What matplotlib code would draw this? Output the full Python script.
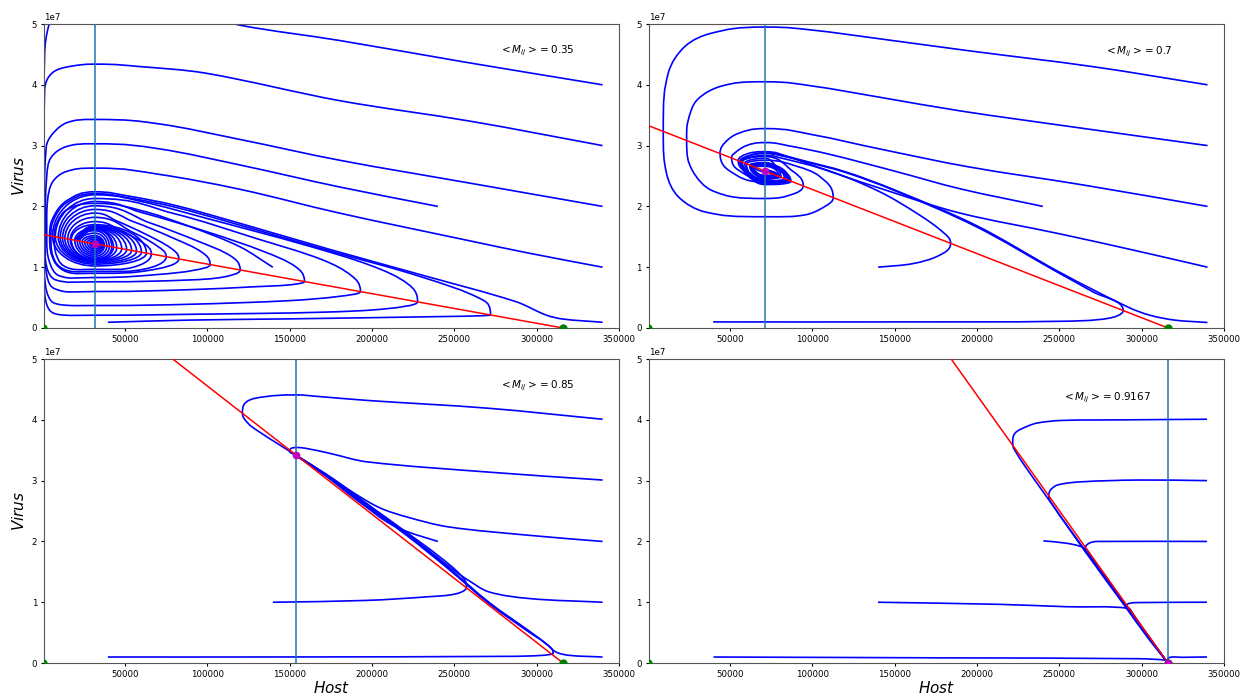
import numpy as np
import matplotlib
matplotlib.use("Agg")
import matplotlib.pyplot as plt
from matplotlib.path import Path
from matplotlib.patches import PathPatch

# mean M_ij of each panel, label text and where the label sits (H, V/1e7)
m_labels = ["0.35", "0.7", "0.85", "0.9167"]
label_pos = [(277300, 4.56), (277100, 4.54), (277200, 4.56), (251400, 4.37)]

# nullclines: carrying capacity, V intercept of the
# host nullcline (1e7), host value of the virus nullcline, equilibrium V (1e7)
K = 316000
red_v0 = [1.538, 3.333, 6.667, 12.0]
h_star = [31600, 71200, 153700, 315800]
v_eq = [1.377, 2.58, 3.42, 0.0076]

# trajectories, points are (Host, Virus/1e7, tag)
# tag 'h' = top/bottom of a loop (flat), 'v' = left/right tip (vertical)
traj_035 = [
    [(340000, 4.00, ''), (255000, 4.38, ''), (180000, 4.73, ''), (120000, 4.98, ''), (70000, 5.3, ''),
     (31600, 5.45, 'h'), (10000, 5.3, ''), (3800, 4.98, ''), (1200, 4.5, ''), (400, 1.536, 'v'),
     (1200, 0.58, ''), (4000, 0.30, ''), (10000, 0.22, ''), (31600, 0.21, 'h'), (89000, 0.225, ''),
     (170000, 0.26, ''), (210000, 0.32, ''), (227700, 0.43, 'v'), (222000, 0.72, ''), (200000, 1.02, ''),
     (160000, 1.36, ''), (100000, 1.80, ''), (60000, 2.08, ''), (31600, 2.19, 'h'), (6000, 1.509, 'v'),
     (31600, 1.02, 'h'), (63000, 1.231, 'v'), (31600, 1.70, 'h'), (17400, 1.453, 'v'), (31600, 1.12, 'h'),
     (42000, 1.334, 'v'), (31600, 1.64, 'h'), (19500, 1.443, 'v'), (31600, 1.15, 'h'), (40500, 1.342, 'v'),
     (31600, 1.60, 'h'), (21000, 1.436, 'v'), (31600, 1.18, 'h'), (39000, 1.348, 'v'), (31600, 1.56, 'h'),
     (22500, 1.428, 'v'), (31600, 1.21, 'h'), (37500, 1.355, 'v'), (31600, 1.52, 'h'), (24000, 1.421, 'v'),
     (31600, 1.24, 'h'), (36500, 1.36, 'v'), (31600, 1.49, 'h'), (25500, 1.414, 'v'), (31600, 1.27, 'h'),
     (35500, 1.365, 'v'), (31600, 1.46, 'h'), (27000, 1.407, 'v'), (31600, 1.30, 'h'), (34500, 1.37, 'v'),
     (31600, 1.43, 'h'), (28500, 1.40, 'v'), (31600, 1.33, 'h'), (33500, 1.375, 'v'), (31600, 1.40, 'h'),
     (29500, 1.394, 'v'), (31600, 1.35, 'h'), (32800, 1.377, 'v'), (31600, 1.38, '')],
    [(340000, 3.00, ''), (260000, 3.40, ''), (180200, 3.74, ''), (99300, 4.19, ''), (58900, 4.30, ''),
     (31600, 4.34, 'h'), (18400, 4.31, ''), (8300, 4.24, ''), (3200, 4.11, ''), (1200, 3.91, ''),
     (700, 1.535, 'v'), (1500, 0.75, ''), (5000, 0.45, ''), (12000, 0.38, ''), (31600, 0.37, 'h'),
     (89000, 0.39, ''), (150000, 0.45, ''), (180000, 0.52, ''), (193000, 0.599, 'v'), (188000, 0.85, ''),
     (170000, 1.12, ''), (130000, 1.47, ''), (80000, 1.88, ''), (31600, 2.13, 'h'), (7700, 1.501, 'v'),
     (31600, 1.05, 'h'), (60000, 1.246, 'v'), (31600, 1.68, 'h'), (19000, 1.45, '')],
    [(340000, 2.00, ''), (260000, 2.38, ''), (180200, 2.76, ''), (120000, 3.10, ''), (70000, 3.36, ''),
     (31600, 3.43, 'h'), (15000, 3.38, ''), (6250, 3.20, ''), (2200, 2.98, ''), (1100, 1.533, 'v'),
     (2000, 0.95, ''), (7000, 0.65, ''), (31600, 0.60, 'h'), (89000, 0.63, ''), (130000, 0.68, ''),
     (150000, 0.71, ''), (159000, 0.764, 'v'), (154000, 1.0, ''), (135000, 1.25, ''), (100000, 1.58, ''),
     (60000, 1.90, ''), (31600, 2.08, 'h'), (9500, 1.492, 'v'), (31600, 1.07, 'h'), (57000, 1.26, 'v'),
     (31600, 1.67, 'h'), (19500, 1.45, '')],
    [(240000, 2.00, ''), (180200, 2.32, ''), (120000, 2.68, ''), (70000, 2.95, ''), (31600, 3.03, 'h'),
     (14000, 2.98, ''), (5000, 2.80, ''), (2500, 2.5, ''), (1500, 1.531, 'v'), (2500, 1.0, ''),
     (8000, 0.79, ''), (31600, 0.76, 'h'), (89000, 0.79, ''), (110000, 0.84, ''), (119950, 0.954, 'v'),
     (115000, 1.17, ''), (95000, 1.42, ''), (65000, 1.73, ''), (31600, 2.01, 'h'), (10700, 1.486, 'v'),
     (31600, 1.09, 'h'), (54000, 1.275, 'v'), (31600, 1.66, 'h'), (20000, 1.45, '')],
    [(340000, 1.00, ''), (295500, 1.23, ''), (260000, 1.43, ''), (180200, 1.89, ''), (120000, 2.28, ''),
     (70000, 2.53, ''), (31600, 2.63, 'h'), (14000, 2.57, ''), (6000, 2.40, ''), (3000, 2.10, ''),
     (2500, 1.526, 'v'), (4000, 1.1, ''), (10000, 0.86, ''), (31600, 0.83, 'h'), (70000, 0.88, ''),
     (92000, 0.95, ''), (101700, 1.043, 'v'), (97000, 1.24, ''), (80000, 1.47, ''), (55000, 1.75, ''),
     (31600, 1.95, 'h'), (12100, 1.479, 'v'), (31600, 1.10, 'h'), (51000, 1.29, 'v'), (31600, 1.65, 'h'),
     (20500, 1.45, '')],
    [(340000, 0.094, ''), (315700, 0.148, ''), (305600, 0.214, ''), (287400, 0.433, ''), (230800, 0.867, ''),
     (174150, 1.294, ''), (120000, 1.72, ''), (80000, 2.02, ''), (50000, 2.18, ''), (31600, 2.24, 'h'),
     (15000, 2.1, ''), (7000, 1.85, ''), (4250, 1.517, 'v'), (7000, 1.1, ''), (15000, 0.92, ''),
     (31600, 0.90, 'h'), (65000, 0.95, ''), (82700, 1.135, 'v'), (78000, 1.31, ''), (62000, 1.55, ''),
     (45000, 1.76, ''), (31600, 1.89, 'h'), (13500, 1.472, 'v'), (31600, 1.11, 'h'), (48000, 1.304, 'v'),
     (31600, 1.64, 'h'), (21000, 1.45, '')],
    [(139750, 1.00, ''), (119500, 1.34, ''), (89200, 1.67, ''), (60000, 1.93, ''), (31600, 2.05, 'h'),
     (15000, 1.95, ''), (9000, 1.75, ''), (7000, 1.502, 'v'), (10000, 1.1, ''), (17000, 0.975, ''),
     (31600, 0.965, 'h'), (55000, 1.0, ''), (66000, 1.217, 'v'), (62000, 1.38, ''), (48000, 1.59, ''),
     (31600, 1.75, 'h'), (16800, 1.456, 'v'), (31600, 1.13, 'h'), (43000, 1.33, 'v'), (31600, 1.62, 'h'),
     (22000, 1.45, '')],
    [(39600, 0.094, ''), (89200, 0.13, ''), (150000, 0.15, ''), (247000, 0.19, ''), (265000, 0.20, ''),
     (272000, 0.215, 'v'), (268000, 0.45, ''), (230000, 0.84, ''), (174000, 1.27, ''), (120000, 1.69, ''),
     (80000, 1.99, ''), (50000, 2.15, ''), (31600, 2.21, 'h'), (14000, 2.05, ''), (7000, 1.8, ''),
     (5000, 1.515, 'v'), (7500, 1.1, ''), (15000, 0.945, ''), (31600, 0.93, 'h'), (62000, 0.97, ''),
     (75000, 1.173, 'v'), (70000, 1.34, ''), (55000, 1.57, ''), (31600, 1.82, 'h'), (15200, 1.464, 'v'),
     (31600, 1.12, 'h'), (45000, 1.319, 'v'), (31600, 1.63, 'h'), (21500, 1.45, '')],
]

traj_07 = [
    [(340000, 4.0, ''), (270000, 4.3, ''), (195000, 4.56, ''), (140000, 4.76, ''), (100000, 4.9, ''),
     (71200, 4.95, 'h'), (38900, 4.85, ''), (22600, 4.63, ''), (12500, 4.19, ''), (9500, 3.26, 'v'),
     (11500, 2.54, ''), (18600, 2.16, ''), (34800, 1.91, ''), (71200, 1.83, 'h'), (95500, 1.86, ''),
     (107700, 2.0, ''), (112700, 2.15, 'v'), (104600, 2.49, ''), (90500, 2.66, ''), (71200, 2.76, 'h'),
     (60000, 2.70, 'v'), (71200, 2.42, 'h'), (84000, 2.45, 'v'), (71200, 2.68, 'h'), (64000, 2.66, 'v'),
     (71200, 2.50, 'h'), (77000, 2.52, 'v'), (71200, 2.60, '')],
    [(340000, 3.0, ''), (260000, 3.3, ''), (190000, 3.57, ''), (140000, 3.8, ''), (100000, 3.98, ''),
     (71200, 4.05, 'h'), (45000, 3.98, ''), (30000, 3.75, ''), (24500, 3.4, ''), (23700, 3.08, 'v'),
     (27000, 2.6, ''), (40000, 2.25, ''), (71200, 2.13, 'h'), (88000, 2.2, ''), (94500, 2.34, 'v'),
     (88000, 2.58, ''), (71200, 2.82, 'h'), (57000, 2.74, 'v'), (71200, 2.39, 'h'), (86000, 2.43, 'v'),
     (71200, 2.70, 'h'), (62000, 2.68, 'v'), (71200, 2.47, 'h'), (79000, 2.51, 'v'), (71200, 2.62, '')],
    [(340000, 2.0, ''), (265000, 2.35, ''), (195000, 2.65, ''), (140000, 2.95, ''), (100000, 3.18, ''),
     (71200, 3.28, 'h'), (55000, 3.2, ''), (47000, 3.05, ''), (44000, 2.87, 'v'), (50000, 2.58, ''),
     (71200, 2.40, 'h'), (80000, 2.42, ''), (83000, 2.46, 'v'), (78000, 2.66, ''), (71200, 2.79, 'h'),
     (59000, 2.71, 'v'), (71200, 2.45, 'h'), (80000, 2.49, 'v'), (71200, 2.66, 'h'), (65000, 2.65, 'v'),
     (71200, 2.55, '')],
    [(240000, 2.0, ''), (189700, 2.29, ''), (150000, 2.58, ''), (110000, 2.86, ''), (85000, 3.0, ''),
     (71200, 3.05, 'h'), (60000, 3.0, ''), (53000, 2.88, ''), (51000, 2.80, 'v'), (55000, 2.6, ''),
     (71200, 2.45, 'h'), (79000, 2.47, ''), (81000, 2.48, 'v'), (71200, 2.72, 'h'), (62000, 2.68, 'v'),
     (71200, 2.49, 'h'), (77000, 2.52, 'v'), (71200, 2.58, '')],
    [(340000, 1.0, ''), (300000, 1.25, ''), (250000, 1.55, ''), (189700, 1.89, ''), (150000, 2.22, ''),
     (110000, 2.58, ''), (85000, 2.82, ''), (71200, 2.90, 'h'), (60000, 2.86, ''), (55000, 2.75, 'v'),
     (60000, 2.55, ''), (71200, 2.36, 'h'), (82000, 2.37, ''), (87000, 2.41, 'v'), (80000, 2.62, ''),
     (71200, 2.71, 'h'), (63000, 2.67, 'v'), (71200, 2.48, 'h'), (78000, 2.51, 'v'), (71200, 2.59, '')],
    [(340000, 0.09, ''), (320000, 0.13, ''), (305000, 0.21, ''), (292000, 0.34, ''), (250000, 0.92, ''),
     (200000, 1.68, ''), (150000, 2.27, ''), (120000, 2.57, ''), (95000, 2.75, ''), (80000, 2.85, ''),
     (71200, 2.88, 'h'), (62000, 2.84, ''), (56000, 2.74, 'v'), (62000, 2.52, ''), (71200, 2.38, 'h'),
     (82000, 2.39, ''), (86000, 2.43, 'v'), (79000, 2.63, ''), (71200, 2.70, 'h'), (63500, 2.67, 'v'),
     (71200, 2.49, 'h'), (78000, 2.52, 'v'), (71200, 2.59, '')],
    [(140000, 1.0, ''), (161300, 1.06, ''), (177500, 1.20, ''), (184000, 1.39, 'v'), (180000, 1.56, ''),
     (165000, 1.86, ''), (141000, 2.24, ''), (110700, 2.58, ''), (80300, 2.80, ''), (71200, 2.84, 'h'),
     (62000, 2.80, ''), (57500, 2.73, 'v'), (63000, 2.53, ''), (71200, 2.40, 'h'), (81000, 2.41, ''),
     (85000, 2.44, 'v'), (78000, 2.62, ''), (71200, 2.68, 'h'), (64500, 2.65, 'v'), (71200, 2.51, 'h'),
     (77000, 2.53, 'v'), (71200, 2.58, '')],
    [(39800, 0.10, ''), (150000, 0.10, ''), (250000, 0.11, ''), (280000, 0.16, ''), (288800, 0.29, 'v'),
     (270000, 0.60, ''), (250000, 0.90, ''), (200000, 1.66, ''), (150000, 2.26, ''), (120000, 2.56, ''),
     (95000, 2.74, ''), (80000, 2.84, ''), (71200, 2.87, 'h'), (62000, 2.83, ''), (56500, 2.74, 'v'),
     (62000, 2.53, ''), (71200, 2.39, 'h'), (82000, 2.40, ''), (85500, 2.43, 'v'), (79000, 2.63, ''),
     (71200, 2.69, 'h'), (64000, 2.66, 'v'), (71200, 2.50, 'h'), (77500, 2.52, 'v'), (71200, 2.585, '')],
]

traj_085 = [
    [(340000, 4.01, ''), (271000, 4.19, ''), (196800, 4.32, ''), (165000, 4.39, ''), (153700, 4.41, 'h'),
     (134900, 4.38, ''), (124000, 4.30, ''), (121300, 4.12, 'v'), (124500, 3.95, ''), (130000, 3.83, ''),
     (143800, 3.59, ''), (153700, 3.42, '')],
    [(340000, 3.01, ''), (271000, 3.14, ''), (196800, 3.31, ''), (174200, 3.45, ''), (160000, 3.53, ''),
     (153700, 3.545, 'h'), (149900, 3.49, ''), (153700, 3.42, '')],
    [(340000, 2.0, ''), (295800, 2.10, ''), (246300, 2.24, ''), (221500, 2.40, ''), (205000, 2.55, ''),
     (190000, 2.78, ''), (172000, 3.11, ''), (160000, 3.31, ''), (153700, 3.42, '')],
    [(240000, 2.0, ''), (221500, 2.16, ''), (209100, 2.32, ''), (196800, 2.56, ''), (185000, 2.80, ''),
     (172000, 3.08, ''), (160000, 3.30, ''), (153700, 3.42, '')],
    [(340000, 1.0, ''), (295800, 1.06, ''), (271000, 1.17, ''), (258600, 1.36, ''), (250000, 1.52, ''),
     (234000, 1.86, ''), (215000, 2.25, ''), (196800, 2.62, ''), (172000, 3.10, ''), (153700, 3.42, '')],
    [(340000, 0.099, ''), (320000, 0.126, ''), (311800, 0.18, ''), (305700, 0.32, ''), (295800, 0.52, ''),
     (271000, 1.0, ''), (246300, 1.57, ''), (221500, 2.11, ''), (196800, 2.60, ''), (172000, 3.10, ''),
     (153700, 3.42, '')],
    [(139800, 1.0, ''), (196800, 1.03, ''), (233900, 1.09, ''), (251200, 1.14, ''), (257400, 1.25, 'v'),
     (253700, 1.45, ''), (240000, 1.77, ''), (221500, 2.14, ''), (196800, 2.62, ''), (172000, 3.10, ''),
     (153700, 3.42, '')],
    [(39600, 0.099, ''), (150000, 0.10, ''), (283400, 0.11, ''), (303200, 0.126, ''), (310000, 0.16, 'v'),
     (305000, 0.33, ''), (295800, 0.50, ''), (271000, 0.98, ''), (246300, 1.55, ''), (221500, 2.09, ''),
     (196800, 2.58, ''), (172000, 3.08, ''), (153700, 3.42, '')],
]

traj_09167 = [
    [(339700, 4.01, ''), (290000, 4.0, ''), (251400, 3.99, ''), (237000, 3.95, ''), (230200, 3.89, ''),
     (223100, 3.78, ''), (221700, 3.62, 'v'), (224100, 3.45, ''), (232200, 3.12, ''), (244300, 2.66, ''),
     (265000, 1.86, ''), (290000, 0.93, ''), (305000, 0.37, ''), (315200, 0.03, '')],
    [(339700, 3.0, ''), (297900, 3.01, ''), (263000, 2.98, ''), (249100, 2.93, ''), (244800, 2.85, ''),
     (243600, 2.75, 'v'), (246000, 2.60, ''), (265500, 1.86, ''), (290000, 0.95, ''), (315200, 0.03, '')],
    [(339700, 2.0, ''), (274600, 2.0, ''), (270000, 1.99, ''), (267000, 1.95, ''), (265800, 1.89, 'v'),
     (270000, 1.72, ''), (290000, 0.96, ''), (315300, 0.02, '')],
    [(240300, 2.01, ''), (254500, 1.97, ''), (262600, 1.92, ''), (266600, 1.86, ''), (270000, 1.72, ''),
     (290000, 0.95, ''), (315300, 0.02, '')],
    [(339700, 1.0, ''), (300000, 0.995, ''), (293000, 0.985, ''), (291000, 0.95, 'v'), (293000, 0.88, ''),
     (300000, 0.60, ''), (315300, 0.02, '')],
    [(339700, 0.099, ''), (325000, 0.094, ''), (316600, 0.088, ''), (315800, 0.01, '')],
    [(139900, 1.0, ''), (213900, 0.965, ''), (254500, 0.926, ''), (291900, 0.90, ''), (295000, 0.78, ''),
     (305000, 0.41, ''), (315300, 0.02, '')],
    [(40000, 0.099, ''), (180000, 0.085, ''), (297900, 0.071, ''), (315300, 0.044, ''), (315800, 0.01, '')],
]

all_traj = [traj_035, traj_07, traj_085, traj_09167]

# panel size in pixels, used only to make the curves smooth on screen
SX = 575 / 350000.0
SY = 304 / 5.0


def draw_curve(ax, pts):
    P = np.array([(p[0] * SX, p[1] * SY) for p in pts])
    tags = [p[2] for p in pts]
    n = len(P)
    D = np.zeros_like(P)
    for i in range(n):
        d = P[min(i + 1, n - 1)] - P[max(i - 1, 0)]
        if tags[i] == 'h':
            d = np.array([np.sign(d[0]) or 1.0, 0.0])
        elif tags[i] == 'v':
            d = np.array([0.0, np.sign(d[1]) or 1.0])
        D[i] = d / (np.hypot(*d) or 1.0)
    verts = [P[0]]
    codes = [Path.MOVETO]
    for i in range(n - 1):
        seg = P[i + 1] - P[i]
        L = np.hypot(*seg)
        l0 = 0.55 * abs(seg @ D[i]) if tags[i] else L / 3
        l1 = 0.55 * abs(seg @ D[i + 1]) if tags[i + 1] else L / 3
        verts += [P[i] + D[i] * l0, P[i + 1] - D[i + 1] * l1, P[i + 1]]
        codes += [Path.CURVE4] * 3
    verts = np.array(verts) / [SX, SY / 1e7]
    ax.add_patch(PathPatch(Path(verts, codes), fill=False, ec='b', lw=1.2, zorder=2))


fig = plt.figure(figsize=(12.42, 6.98), dpi=100)
boxes = [[0.0354, 0.5301, 0.4630, 0.4355], [0.5225, 0.5301, 0.4630, 0.4355],
         [0.0354, 0.0501, 0.4630, 0.4355], [0.5225, 0.0501, 0.4630, 0.4355]]

for i in range(4):
    ax = fig.add_axes(boxes[i])
    for t in all_traj[i]:
        draw_curve(ax, t)
    ax.plot([0, K], [red_v0[i] * 1e7, 0], color='r', lw=1.1, zorder=3)
    ax.axvline(h_star[i], color='C0', lw=1.1, zorder=3)
    ax.plot([0, K], [0, 0], 'go', ms=5, zorder=4)
    ax.plot(h_star[i], v_eq[i] * 1e7, 'mo', ms=4.5, zorder=5)
    ax.text(label_pos[i][0], label_pos[i][1] * 1e7, r'$<M_{ij}>=%s$' % m_labels[i],
            fontsize=7.5, va='center')
    ax.set_xlim(800, 350000)
    ax.set_ylim(0, 5e7)
    ax.tick_params(labelsize=6.2, length=2.5, pad=2.5)
    ax.yaxis.get_offset_text().set_fontsize(6.2)
    for s in ax.spines.values():
        s.set_edgecolor('#555555')
    if i % 2 == 0:
        ax.set_ylabel(r'$Virus$', fontsize=11, labelpad=3)
    if i >= 2:
        ax.set_xlabel(r'$Host$', fontsize=11, labelpad=1)

fig.savefig('out.png', dpi=100)
